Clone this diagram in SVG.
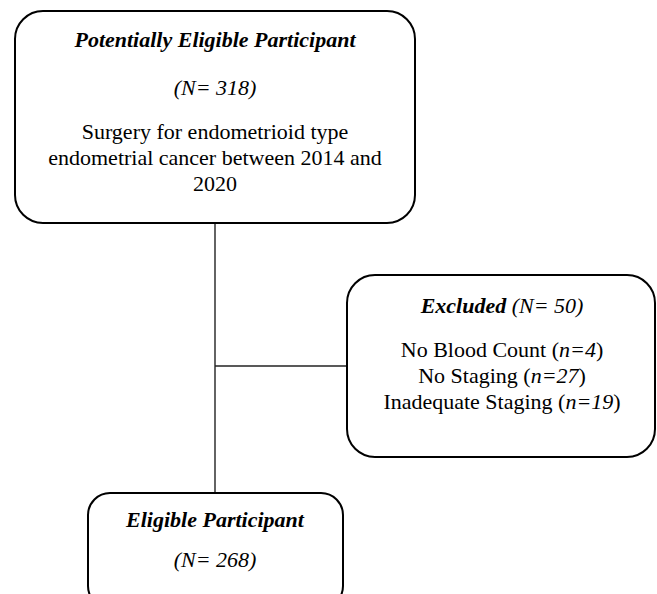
<svg xmlns="http://www.w3.org/2000/svg" width="657" height="594" viewBox="0 0 657 594">
<style>
.box{fill:#fff;stroke:#000;stroke-width:2}
.t{font-family:"Liberation Serif","Times New Roman",serif;font-size:22px;fill:#000;text-anchor:middle}
.bi{font-weight:bold;font-style:italic}
.i{font-style:italic}
.con{stroke:#222;stroke-width:1.4;fill:none}
</style>
<rect width="657" height="594" fill="#fff"/>
<g id="connectors">
<line class="con" x1="215" y1="223" x2="215" y2="493"/>
<line class="con" x1="215" y1="366" x2="347" y2="366"/>
</g>
<g id="potentially-eligible">
<rect class="box" x="15" y="11" width="400" height="212" rx="28" ry="28"/>
<text class="t bi" x="215" y="47">Potentially Eligible Participant</text>
<text class="t i" x="215" y="95">(N= 318)</text>
<text class="t" x="215" y="139">Surgery for endometrioid type</text>
<text class="t" x="215" y="165">endometrial cancer between 2014 and</text>
<text class="t" x="215" y="191">2020</text>
</g>
<g id="excluded">
<rect class="box" x="347" y="275" width="308" height="182" rx="28" ry="28"/>
<text class="t" x="502" y="313"><tspan class="bi">Excluded</tspan><tspan class="i"> (N= 50)</tspan></text>
<text class="t" x="502" y="357">No Blood Count (<tspan class="i">n=4</tspan>)</text>
<text class="t" x="502" y="383">No Staging (<tspan class="i">n=27</tspan>)</text>
<text class="t" x="502" y="409">Inadequate Staging (<tspan class="i">n=19</tspan>)</text>
</g>
<g id="eligible">
<rect class="box" x="88" y="493" width="255" height="115" rx="22" ry="22"/>
<text class="t bi" x="215" y="527">Eligible Participant</text>
<text class="t i" x="215" y="567">(N= 268)</text>
</g>
</svg>
